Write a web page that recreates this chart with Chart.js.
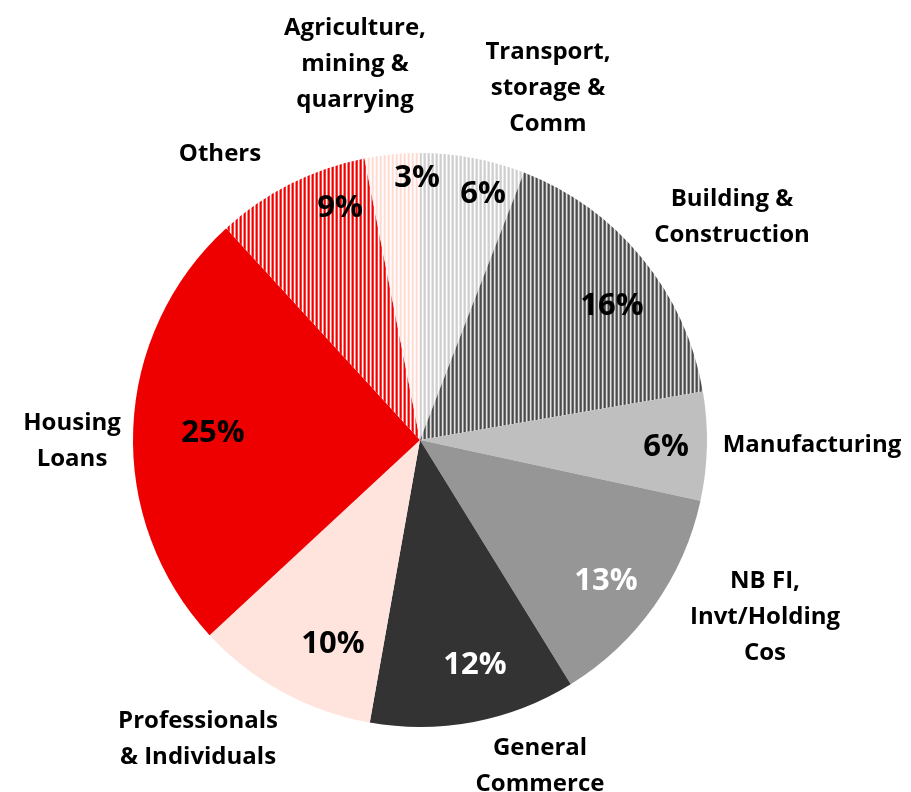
<!DOCTYPE html>
<html>
<head>
<meta charset="utf-8">
<script src="https://cdn.jsdelivr.net/npm/chart.js@4.4.1/dist/chart.umd.min.js"></script>
<style>
    html, body { margin: 0; padding: 0; background: #fff; }
    #wrap { width: 911px; height: 792px; position: relative; }
</style>
</head>
<body>
<div id="wrap"><canvas id="loanPie"></canvas></div>
<script>
// sector labels, clockwise from 12 o'clock
const sectors = [
    ["Transport,", "storage &", "Comm"],
    ["Building &", "Construction"],
    ["Manufacturing"],
    ["NB FI,", "Invt/Holding", "Cos"],
    ["General", "Commerce"],
    ["Professionals", "& Individuals"],
    ["Housing", "Loans"],
    ["Others"],
    ["Agriculture,", "mining &", "quarrying"]
];
// share of loans (%)
const shares = [5.9, 16.4, 6.1, 12.8, 11.6, 10.3, 25.1, 8.7, 3.1];

// label placement, as offsets from the pie centre
const namePos = [[128, -352], [312, -223], [392, 5], [345, 177], [120, 326], [-222, 299], [-348, 1], [-200, -286], [-65, -376]];
const pctPos = [[63, -246], [192, -134], [246, 7], [186, 141], [55, 225], [-87, 204], [-207, -7], [-80, -232], [-3, -262]];
const pctColor = ['#000', '#000', '#000', '#fff', '#fff', '#000', '#000', '#000', '#000'];

function stripes(colors) {
    // vertical hatching like the original print pattern
    const c = document.createElement('canvas');
    c.width = colors.length;
    c.height = 4;
    const g = c.getContext('2d');
    colors.forEach((col, i) => {
        g.fillStyle = col;
        g.fillRect(i, 0, 1, 4);
    });
    return g.createPattern(c, 'repeat');
}

const ctx = document.getElementById('loanPie').getContext('2d');
const fills = [
    stripes(['#cfcfcf', '#d8d8d8', '#ffffff', '#e6e6e6']),
    stripes(['#4a4a4a', '#6a6a6a', '#e0e0e0', '#9a9a9a']),
    '#bfbfbf',
    '#969696',
    '#333333',
    '#ffe4de',
    '#ee0000',
    stripes(['#f00000', '#f43a3a', '#ffffff', '#f88080']),
    stripes(['#ffd9d2', '#ffe6e1', '#ffffff', '#fff2ef'])
];

const labelPlugin = {
    id: 'sectorLabels',
    afterDatasetsDraw(chart) {
        const c = chart.ctx;
        const arcs = chart.getDatasetMeta(0).data;
        c.save();
        c.textAlign = 'center';
        c.textBaseline = 'middle';
        arcs.forEach((arc, i) => {
            const p = arc.getProps(['x', 'y']);
            c.font = 'bold 31px "Open Sans"';
            c.fillStyle = pctColor[i];
            c.fillText(Math.round(shares[i]) + '%', p.x + pctPos[i][0], p.y + pctPos[i][1]);

            c.font = 'bold 24px "Open Sans"';
            c.fillStyle = '#000';
            const lines = sectors[i];
            const lh = 36;
            const top = p.y + namePos[i][1] - (lines.length - 1) * lh / 2;
            lines.forEach((ln, k) => c.fillText(ln, p.x + namePos[i][0], top + k * lh));
        });
        c.restore();
    }
};

new Chart(ctx, {
    type: 'pie',
    data: {
        labels: sectors.map(s => s.join(' ')),
        datasets: [{
            data: shares,
            backgroundColor: fills,
            borderWidth: 0
        }]
    },
    options: {
        responsive: true,
        maintainAspectRatio: false,
        animation: false,
        layout: { padding: { left: 133, right: 204, top: 153, bottom: 65 } },
        plugins: {
            legend: { display: false },
            tooltip: { enabled: false }
        }
    },
    plugins: [labelPlugin]
});
</script>
</body>
</html>
